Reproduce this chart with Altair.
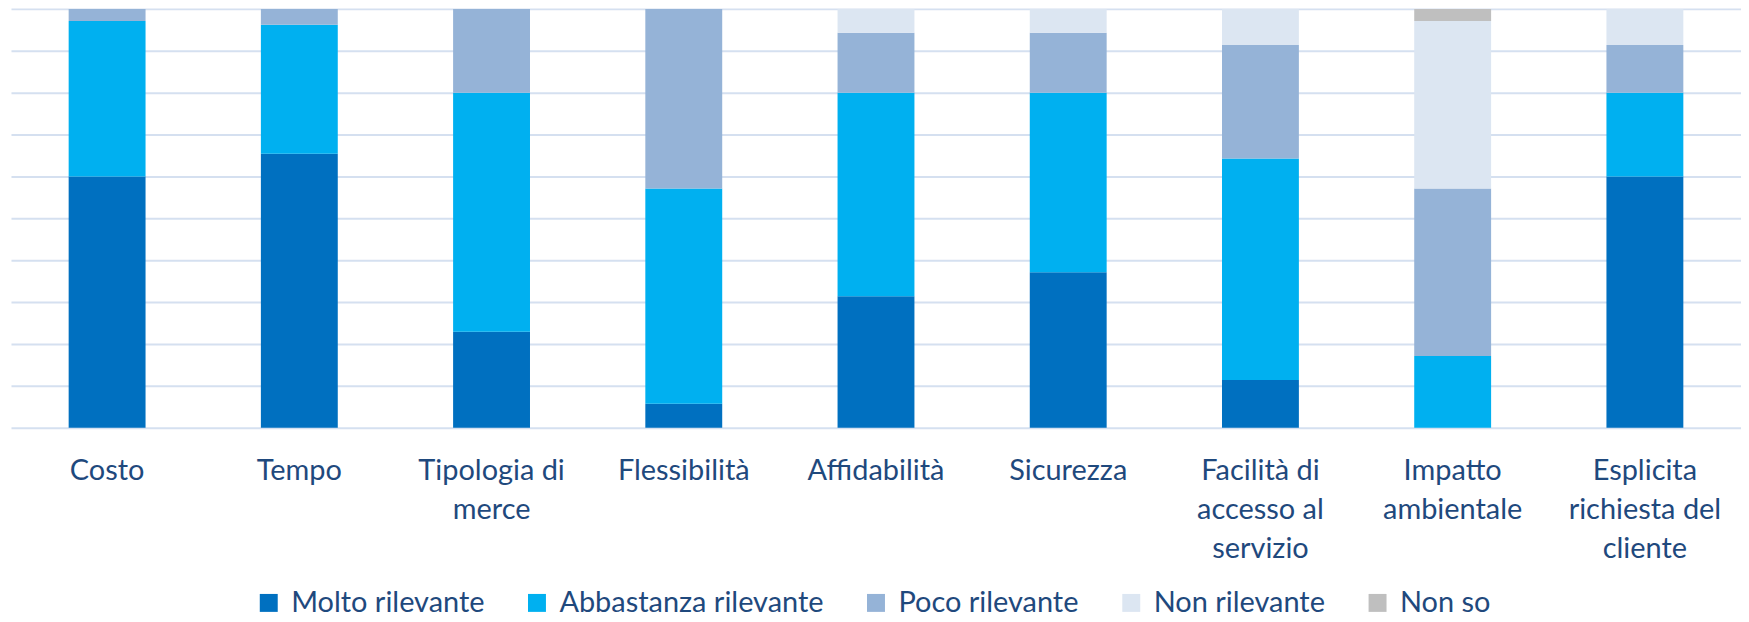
import altair as alt
import pandas as pd

# Categories (x axis), "|" marks a line break in the tick label
categories = [
    "Costo",
    "Tempo",
    "Tipologia di|merce",
    "Flessibilità",
    "Affidabilità",
    "Sicurezza",
    "Facilità di|accesso al|servizio",
    "Impatto|ambientale",
    "Esplicita|richiesta del|cliente",
]

series = ["Molto rilevante", "Abbastanza rilevante", "Poco rilevante", "Non rilevante", "Non so"]
colors = ["#0070C0", "#00B0F0", "#95B3D7", "#DCE6F2", "#BFBFBF"]

# Percentages
molto      = [60.0, 65.4, 22.9,  5.7, 31.4, 37.1, 11.4,  0.0, 60.0]
abbastanza = [37.1, 30.8, 57.1, 51.4, 48.6, 42.9, 52.9, 17.1, 20.0]
poco       = [ 2.9,  3.8, 20.0, 42.9, 14.3, 14.3, 27.1, 40.0, 11.4]
non_ril    = [ 0.0,  0.0,  0.0,  0.0,  5.7,  5.7,  8.6, 40.0,  8.6]
non_so     = [ 0.0,  0.0,  0.0,  0.0,  0.0,  0.0,  0.0,  2.9,  0.0]

grid_values = [0, 0.1, 0.2, 0.3, 0.4, 0.5, 0.6, 0.7, 0.8, 0.9, 1.0]

rows = []
for s_idx, (name, vals) in enumerate(zip(series, [molto, abbastanza, poco, non_ril, non_so])):
    for cat, v in zip(categories, vals):
        rows.append({"categoria": cat, "livello": name, "valore": v, "ord": s_idx})
df = pd.DataFrame(rows)

text_color = "#1F497D"
font = "Lato"

chart = (
    alt.Chart(df)
    .mark_bar()
    .encode(
        x=alt.X(
            "categoria:N",
            sort=categories,
            scale=alt.Scale(paddingInner=0.6, paddingOuter=0.3),
            axis=alt.Axis(
                title=None,
                labelAngle=0,
                labelExpr="split(datum.value, '|')",
                labelFont=font,
                labelFontSize=29,
                labelLineHeight=39,
                labelColor=text_color,
                labelPadding=29,
                ticks=False,
                tickSize=0,
                domain=False,
                grid=False,
                labelLimit=300,
            ),
        ),
        y=alt.Y(
            "valore:Q",
            stack="normalize",
            scale=alt.Scale(domain=[0, 1], nice=False),
            axis=alt.Axis(
                title=None,
                labels=False,
                ticks=False,
                domain=False,
                values=grid_values,
                grid=True,
                gridColor="#D5E0F0",
                gridWidth=2,
            ),
        ),
        color=alt.Color(
            "livello:N",
            sort=series,
            scale=alt.Scale(domain=series, range=colors),
            legend=alt.Legend(
                title=None,
                orient="none",
                direction="horizontal",
                legendX=244,
                legendY=581,
                symbolType="square",
                symbolSize=324,
                symbolStrokeWidth=0,
                labelFont=font,
                labelFontSize=29,
                labelColor=text_color,
                labelOffset=8,
                columnPadding=38,
                padding=0,
                labelLimit=400,
            ),
        ),
        order=alt.Order("ord:Q", sort="ascending"),
    )
    .properties(
        width=1735,
        height=420,
        padding={"left": 3, "top": 0, "right": 0, "bottom": 0},
    )
    .configure_view(stroke=None)
)

chart.save("out.html", embed_options={"renderer": "svg", "actions": False})
